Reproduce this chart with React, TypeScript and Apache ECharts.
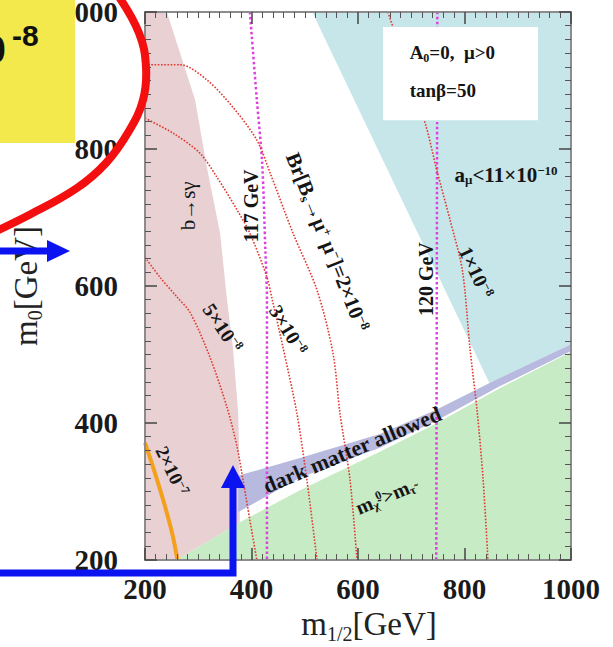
import React, { useEffect, useRef } from 'react';
import * as echarts from 'echarts';

const SERIF = '"Liberation Serif", "Times New Roman", serif';
const SANS = '"Liberation Sans", Arial, sans-serif';

// ---- axes ----
const xRange = [200, 1000];
const yRange = [200, 1000];
const tickStep = 200;

// ---- shaded regions (m1/2, m0) ----
const bsgExcluded = [[200, 1000], [241, 1000], [294, 872], [316, 774], [341, 677], [354, 580], [365, 511], [375, 415], [378, 317], [378, 255], [260, 200], [200, 200]];
const stauLspRegion = [[260, 200], [378, 255], [491, 302], [641, 358], [746, 399], [867, 451], [1000, 504], [1000, 200]];
const dmBandTop = [[375, 323], [491, 349], [641, 384], [746, 419], [867, 466], [1000, 515]];
const dmBandBottom = [[375, 270], [491, 320], [641, 364], [746, 403], [867, 454], [1000, 505]];
const gm2Region = [[514, 1000], [847, 458], [867, 466], [1000, 515], [1000, 1000]];
const legendBox = [[647, 978], [938, 842]];

// ---- contours ----
const bsmumu2e7 = [[200, 371], [215, 336], [234, 288], [251, 239], [261, 200]];
const bsmumu5e8 = [[200, 642], [228, 613], [260, 584], [285, 561], [322, 496], [354, 423], [373, 365], [384, 317], [397, 258], [410, 200]];
const bsmumu3e8 = [[200, 845], [253, 823], [303, 794], [335, 759], [373, 711], [397, 677], [429, 613], [439, 580], [459, 511], [485, 415], [504, 317], [523, 200]];
const bsmumu2e8 = [[200, 923], [266, 923], [316, 901], [365, 861], [410, 813], [435, 765], [478, 677], [523, 594], [553, 502], [566, 415], [585, 317], [598, 200]];
const bsmumu1e8 = [[656, 1000], [726, 838], [748, 769], [773, 696], [796, 623], [810, 511], [824, 415], [835, 317], [844, 200]];
const higgs117 = [[397, 1000], [410, 872], [420, 780], [426, 653], [429, 580], [429, 200]];
const higgs120 = [[749, 1000], [747, 200]];

// ---- in-plot labels ----
const labelTexts = [
  '{a|b→sγ}',
  '{a|117 GeV}',
  '{a|120 GeV}',
  '{a|Br[B}{s|s}{a|→μ}{p|+}{a| μ}{p|−}{a|]=2×10}{p|−8}',
  '{a|3×10}{p|−8}',
  '{a|5×10}{p|−8}',
  '{a|1×10}{p|−8}',
  '{a|2×10}{p|−7}',
  '{a|a}{s|μ}{a|<11×10}{p|−10}',
  '{a|dark matter allowed}',
  '{a|m}{s|χ̃}{p|0}{a|>m}{s|τ̃}',
  '{a|A}{s|0}{a|=0,  μ>0}',
  '{a|tanβ=50}',
];
const labelPos = [[281, 717], [399, 717], [728, 610], [542, 664], [469, 536], [346, 539], [822, 620], [251, 330], [878, 762], [589, 361], [651, 292], [697, 939], [697, 886]];
const labelRot = [Math.PI / 2, Math.PI / 2, Math.PI / 2, -1.19, -1.03, -0.98, -1.13, -1.12, 0, 0.4, 0.4, 0, 0];
const labelSize = [21, 20, 20, 21, 20, 20, 20, 19, 21, 22, 20, 19, 19];
const labelWeight = ['normal', 'bold', 'bold', 'bold', 'bold', 'bold', 'bold', 'bold', 'bold', 'bold', 'bold', 'bold', 'bold'];
const labelAlign = ['center', 'center', 'center', 'center', 'center', 'center', 'center', 'center', 'center', 'center', 'center', 'left', 'left'];

function richFor(F: number, weight: string, family = SERIF) {
  const base = { fontFamily: family, fontWeight: weight, verticalAlign: 'top' };
  const small = Math.round(F * 0.62);
  return {
    a: { ...base, fontSize: F },
    s: { ...base, fontSize: small, padding: [Math.round(F * 0.45), 0, 0, 0] },
    p: { ...base, fontSize: small, padding: [0, 0, 0, 0] },
  };
}

function regionSeries(name: string, pts: number[][], fill: string, z: number) {
  return {
    type: 'custom',
    name,
    z,
    silent: true,
    clip: true,
    coordinateSystem: 'cartesian2d',
    data: [pts[0]],
    renderItem: (_p: any, api: any) => ({
      type: 'polygon',
      shape: { points: pts.map((p) => api.coord(p)) },
      style: { fill },
    }),
  };
}

function lineSeries(name: string, pts: number[][], color: string, width: number, type: any, z: number) {
  return {
    type: 'line',
    name,
    z,
    data: pts,
    smooth: 0.3,
    symbol: 'none',
    silent: true,
    lineStyle: { color, width, type },
  };
}

const axisLineStyle = { show: true, lineStyle: { color: '#8c8c8c', width: 2 } };
const tickStyle = { show: true, inside: true, length: 12, lineStyle: { color: '#444', width: 1.5 } };
const minorStyle = { show: true, splitNumber: 10, length: 6, lineStyle: { color: '#555', width: 1 } };

const axisNameRich = {
  a: { fontFamily: SERIF, fontSize: 33, verticalAlign: 'top', color: '#222' },
  s: { fontFamily: SERIF, fontSize: 20, verticalAlign: 'top', padding: [16, 0, 0, 0], color: '#222' },
};

const tickFmt = (v: number) => String(v);

function buildOption() {
  const bandPoly = dmBandTop.concat(dmBandBottom.slice().reverse());
  return {
    animation: false,
    backgroundColor: '#ffffff',
    grid: { left: 145, top: 12, width: 426, height: 548, outerBoundsMode: 'none', containLabel: false },
    xAxis: [
      {
        type: 'value', min: xRange[0], max: xRange[1], interval: tickStep, position: 'bottom', z: 10,
        axisLine: axisLineStyle, axisTick: tickStyle, minorTick: minorStyle, splitLine: { show: false },
        axisLabel: { fontFamily: SERIF, fontWeight: 'bold', fontSize: 29, color: '#1a1a1a', margin: 14, formatter: tickFmt },
        name: '{a|m}{s|1/2}{a|[GeV]}', nameLocation: 'middle', nameGap: 44,
        nameTextStyle: { rich: axisNameRich, padding: [0, 0, 0, 22] },
      },
      {
        type: 'value', min: xRange[0], max: xRange[1], interval: tickStep, position: 'top', z: 10,
        axisLine: axisLineStyle, axisTick: tickStyle, minorTick: minorStyle, splitLine: { show: false },
        axisLabel: { show: false },
      },
    ],
    yAxis: [
      {
        type: 'value', min: yRange[0], max: yRange[1], interval: tickStep, position: 'left', z: 10,
        axisLine: axisLineStyle, axisTick: tickStyle, minorTick: minorStyle, splitLine: { show: false },
        axisLabel: { fontFamily: SERIF, fontWeight: 'bold', fontSize: 29, color: '#1a1a1a', margin: 27, formatter: tickFmt },
        name: '{a|m}{s|0}{a|[GeV]}', nameLocation: 'middle', nameGap: 100, nameRotate: 90,
        nameTextStyle: { rich: axisNameRich },
      },
      {
        type: 'value', min: yRange[0], max: yRange[1], interval: tickStep, position: 'right', z: 10,
        axisLine: axisLineStyle, axisTick: tickStyle, minorTick: minorStyle, splitLine: { show: false },
        axisLabel: { show: false },
      },
    ],
    series: [
      regionSeries('a_mu', gm2Region, '#c6e6ea', 1),
      regionSeries('b->s gamma', bsgExcluded, '#e8d0d3', 1),
      regionSeries('stau LSP', stauLspRegion, '#c7ebc4', 1),
      regionSeries('dark matter', bandPoly, '#b8b9df', 1),
      lineSeries('Higgs 117', higgs117, '#dd3fe0', 2.5, 'dotted', 3),
      lineSeries('Higgs 120', higgs120, '#dd3fe0', 2.5, 'dotted', 3),
      lineSeries('Bs 5e-8', bsmumu5e8, '#e2382f', 1.6, 'dotted', 3),
      lineSeries('Bs 3e-8', bsmumu3e8, '#e2382f', 1.6, 'dotted', 3),
      lineSeries('Bs 2e-8', bsmumu2e8, '#e2382f', 1.6, 'dotted', 3),
      lineSeries('Bs 1e-8', bsmumu1e8, '#e2382f', 1.6, 'dotted', 3),
      lineSeries('Bs 2e-7', bsmumu2e7, '#f3a01c', 4, 'solid', 3),
      {
        type: 'custom', name: 'legend box', z: 4, silent: true, clip: true,
        coordinateSystem: 'cartesian2d', data: [legendBox[0]],
        renderItem: (_p: any, api: any) => {
          const a = api.coord(legendBox[0]);
          const b = api.coord(legendBox[1]);
          return { type: 'rect', shape: { x: a[0], y: a[1], width: b[0] - a[0], height: b[1] - a[1] }, style: { fill: '#ffffff' } };
        },
      },
      {
        type: 'custom', name: 'labels', z: 6, silent: true, clip: false,
        coordinateSystem: 'cartesian2d',
        data: labelPos.map((p, i) => [p[0], p[1], i]),
        renderItem: (_p: any, api: any) => {
          const i = api.value(2);
          const c = api.coord([api.value(0), api.value(1)]);
          return {
            type: 'text', x: c[0], y: c[1], rotation: labelRot[i],
            style: {
              text: labelTexts[i], rich: richFor(labelSize[i], labelWeight[i]),
              fontFamily: SERIF, fontSize: labelSize[i], fontWeight: labelWeight[i],
              fill: '#151515', align: labelAlign[i], verticalAlign: 'middle',
            },
          };
        },
      },
    ],
    graphic: [
      { type: 'rect', z: 100, shape: { x: 0, y: 0, width: 75, height: 143 }, style: { fill: '#f3e94c' } },
      { type: 'text', z: 101, x: 6, y: 50, style: { text: '10', fontFamily: SANS, fontWeight: 'bold', fontSize: 38, fill: '#111', align: 'right', verticalAlign: 'middle' } },
      { type: 'text', z: 101, x: 12, y: 35, style: { text: '-8', fontFamily: SANS, fontWeight: 'bold', fontSize: 30, fill: '#111', align: 'left', verticalAlign: 'middle' } },
      {
        type: 'polyline', z: 102,
        shape: { points: [[117, -6], [139, 33], [146, 67], [143, 100], [129, 131], [106, 163], [77, 188], [31, 214], [-10, 234]], smooth: 0.4 },
        style: { stroke: '#f30f0f', lineWidth: 8, fill: null },
      },
      { type: 'polyline', z: 103, shape: { points: [[0, 251], [52, 251]] }, style: { stroke: '#0b14f0', lineWidth: 7, fill: null } },
      { type: 'polygon', z: 103, shape: { points: [[47, 240], [70, 251], [47, 262]] }, style: { fill: '#0b14f0' } },
      { type: 'polyline', z: 103, shape: { points: [[0, 573], [233, 573], [233, 486]] }, style: { stroke: '#0b14f0', lineWidth: 7, fill: null, lineJoin: 'miter' } },
      { type: 'polygon', z: 103, shape: { points: [[221, 488], [233, 465], [245, 488]] }, style: { fill: '#0b14f0' } },
    ],
  };
}

export default function App() {
  const ref = useRef<HTMLDivElement>(null);
  useEffect(() => {
    const chart = echarts.init(ref.current as HTMLDivElement, null, { renderer: 'svg' });
    chart.setOption(buildOption() as any);
    return () => chart.dispose();
  }, []);
  return (
    <div
      ref={ref}
      style={{ position: 'absolute', left: 0, top: 0, width: 613, height: 647, background: '#fff' }}
    />
  );
}
